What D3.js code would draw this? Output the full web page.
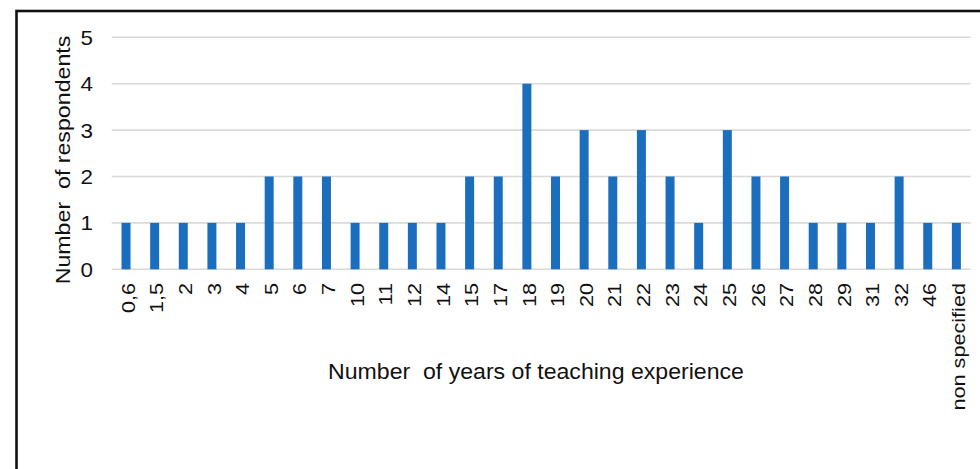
<!DOCTYPE html>
<html>
<head>
<meta charset="utf-8">
<script src="https://cdn.jsdelivr.net/npm/d3@7"></script>
<style>
html,body{margin:0;padding:0;background:#fff;}
svg{display:block;}
text{font-family:"Liberation Sans",Arial,sans-serif;fill:#111;white-space:pre;}
</style>
</head>
<body>
<svg id="chart" width="980" height="469"></svg>
<script>
const categories = ["0,6","1,5","2","3","4","5","6","7","10","11","12","14","15","17","18","19","20","21","22","23","24","25","26","27","28","29","31","32","46","non specified"];
const respondents = [1,1,1,1,1,2,2,2,1,1,1,1,2,2,4,2,3,2,3,2,1,3,2,2,1,1,1,2,1,1];
const yTicks = [0,1,2,3,4,5];
const yTitle = "Number  of respondents";
const xTitle = "Number  of years of teaching experience";

const svg = d3.select("#chart");

// frame (extends beyond visible area on right and bottom)
svg.append("rect")
  .attr("x", 16.5).attr("y", 11)
  .attr("width", 1000).attr("height", 500)
  .attr("fill", "none").attr("stroke", "#111").attr("stroke-width", 2.6);

const plot = {left: 111.7, right: 970.7, top: 37.3, bottom: 269.3};

const x = d3.scaleBand()
  .domain(categories)
  .range([plot.left, plot.right])
  .paddingInner(0.686)
  .paddingOuter(0.343);

const y = d3.scaleLinear()
  .domain([0, 5])
  .range([plot.bottom, plot.top]);

// gridlines
svg.append("g")
  .selectAll("line")
  .data(yTicks)
  .join("line")
  .attr("x1", plot.left).attr("x2", plot.right)
  .attr("y1", d => y(d)).attr("y2", d => y(d))
  .attr("stroke", "#d9d9d9").attr("stroke-width", 1.6);

// bars
svg.append("g")
  .selectAll("rect")
  .data(categories.map((c, i) => ({c, v: respondents[i]})))
  .join("rect")
  .attr("x", d => x(d.c))
  .attr("width", x.bandwidth())
  .attr("y", d => y(d.v))
  .attr("height", d => y(0) - y(d.v))
  .attr("fill", "#1b6ebd");

// y tick labels
svg.append("g")
  .selectAll("text")
  .data(yTicks)
  .join("text")
  .attr("transform", d => `translate(93,${y(d) + 0.5}) scale(1.12,1)`)
  .attr("text-anchor", "end")
  .attr("dy", "0.35em")
  .attr("font-size", 20)
  .text(d => d);

// x tick labels
svg.append("g")
  .selectAll("text")
  .data(categories)
  .join("text")
  .attr("transform", d => `translate(${x(d) + x.bandwidth() / 2 + 2},283) rotate(-90) scale(1.14,1)`)
  .attr("text-anchor", "end")
  .attr("dy", "0.35em")
  .attr("font-size", 19)
  .text(d => d);

// y axis title
svg.append("text")
  .attr("transform", "translate(70,160) rotate(-90) scale(1.16,1)")
  .attr("text-anchor", "middle")
  .attr("font-size", 20)
  .text(yTitle);

// x axis title
svg.append("text")
  .attr("transform", "translate(536,379) scale(1.05,1)")
  .attr("text-anchor", "middle")
  .attr("font-size", 22)
  .text(xTitle);
</script>
</body>
</html>
